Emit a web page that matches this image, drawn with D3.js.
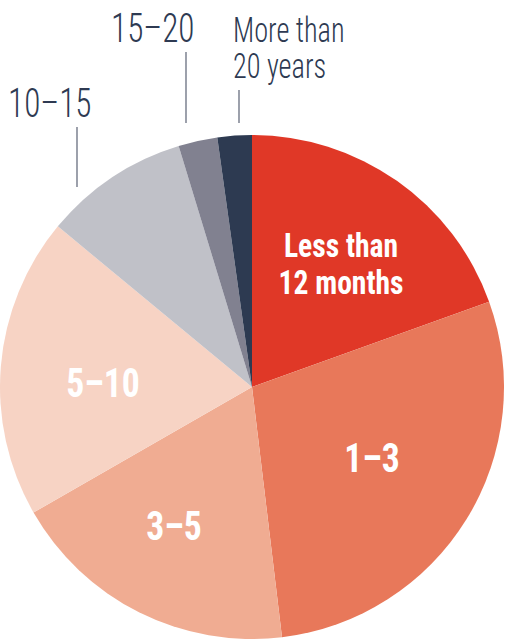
<!DOCTYPE html>
<head>
  <meta charset="utf-8">
  <script src="https://d3js.org/d3.v7.min.js"></script>
  <style>
  body { margin: 0; background: #fff; }
  text { font-family: "Roboto Condensed", "Liberation Sans Narrow", "DejaVu Sans Condensed", sans-serif; }
  .inside { fill: #fff; font-weight: bold; text-anchor: middle; }
  .outside { fill: #2e3a52; font-weight: 300; }
  .leader { stroke: #5b6274; stroke-width: 1.2px; }
</style>
</head>
<body>
<svg width="505" height="640"></svg>

<script type="text/javascript">
// Tenure categories, clockwise from 12 o'clock
var categories = ["Less than 12 months", "1–3", "3–5", "5–10", "10–15", "15–20", "More than 20 years"];
var shares = [19.5, 28.6, 18.6, 19.3, 9.3, 2.5, 2.2];
var colors = ["#e03827", "#e8785a", "#f0ac92", "#f7d3c4", "#c0c1c8", "#818190", "#2d3a51"];

// label lines as they appear
var labelLines = [["Less than", "12 months"], ["1–3"], ["3–5"], ["5–10"], ["10–15"], ["15–20"], ["More than", "20 years"]];

// where each label sits (x, first baseline), and leader line for the outside ones
var labelPos = [
  {x: 341, y: 257, size: 34, inside: true},
  {x: 372, y: 472, size: 41, inside: true},
  {x: 174, y: 540, size: 41, inside: true},
  {x: 103, y: 397, size: 41, inside: true},
  {x: 8,   y: 117, size: 41, inside: false, lx: 77,  ly1: 127, ly2: 187},
  {x: 111, y: 42,  size: 41, inside: false, lx: 186, ly1: 52,  ly2: 123},
  {x: 233, y: 42,  size: 35, inside: false, lx: 239, ly1: 90,  ly2: 123}
];

var cx = 252, cy = 387, radius = 252;

var svg = d3.select("svg");
var g = svg.append("g").attr("transform", "translate(" + cx + "," + cy + ")");

var pie = d3.pie().sort(null).value(function(d) { return d; });
var arc = d3.arc().innerRadius(0).outerRadius(radius);

g.selectAll("path")
  .data(pie(shares))
  .enter().append("path")
    .attr("d", arc)
    .attr("fill", function(d, i) { return colors[i]; });

// leader lines
svg.selectAll("line.leader")
  .data(labelPos.filter(function(p) { return !p.inside; }))
  .enter().append("line")
    .attr("class", "leader")
    .attr("x1", function(p) { return p.lx; })
    .attr("x2", function(p) { return p.lx; })
    .attr("y1", function(p) { return p.ly1; })
    .attr("y2", function(p) { return p.ly2; });

// labels - the source font is narrower than anything installed, so squeeze horizontally
categories.forEach(function(c, i) {
  var p = labelPos[i];
  var sx = p.inside ? 0.87 : 0.81;
  var t = svg.append("text")
    .attr("class", p.inside ? "inside" : "outside")
    .attr("transform", "translate(" + p.x + "," + p.y + ") scale(" + sx + ",1)")
    .style("font-size", p.size + "px");
  labelLines[i].forEach(function(line, j) {
    t.append("tspan")
      .attr("x", 0)
      .attr("y", j * (p.inside ? 37 : 36))
      .text(line);
  });
});
</script>
</body>
</html>
